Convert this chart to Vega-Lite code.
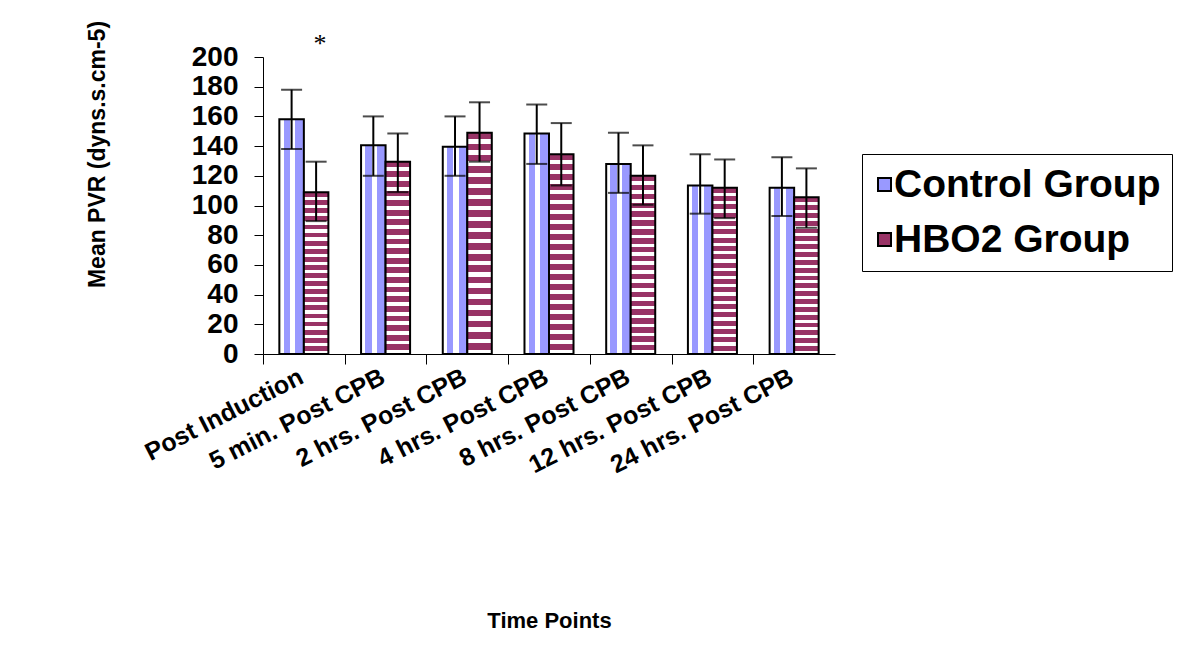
{
  "$schema": "https://vega.github.io/schema/vega-lite/v6.json",
  "autosize": "none",
  "width": 572,
  "height": 297,
  "padding": {"left": 263, "top": 57, "right": 346, "bottom": 314},
  "background": "white",
  "config": {
    "view": {"stroke": null},
    "font": "Liberation Sans"
  },
  "data": {
    "values": [
      {"time": "Post Induction", "group": "Control Group", "mean": 158, "lower": 138, "upper": 178},
      {"time": "Post Induction", "group": "HBO2 Group", "mean": 109, "lower": 89.5, "upper": 129.5},
      {"time": "5 min. Post CPB", "group": "Control Group", "mean": 140.5, "lower": 120, "upper": 160},
      {"time": "5 min. Post CPB", "group": "HBO2 Group", "mean": 129.5, "lower": 109, "upper": 148.5},
      {"time": "2 hrs. Post CPB", "group": "Control Group", "mean": 139.5, "lower": 120, "upper": 160},
      {"time": "2 hrs. Post CPB", "group": "HBO2 Group", "mean": 149, "lower": 129.5, "upper": 169.5},
      {"time": "4 hrs. Post CPB", "group": "Control Group", "mean": 148.5, "lower": 128, "upper": 168},
      {"time": "4 hrs. Post CPB", "group": "HBO2 Group", "mean": 134.5, "lower": 113.5, "upper": 155.5},
      {"time": "8 hrs. Post CPB", "group": "Control Group", "mean": 128, "lower": 108.5, "upper": 149},
      {"time": "8 hrs. Post CPB", "group": "HBO2 Group", "mean": 120, "lower": 100.5, "upper": 140.5},
      {"time": "12 hrs. Post CPB", "group": "Control Group", "mean": 113.5, "lower": 94.5, "upper": 134.5},
      {"time": "12 hrs. Post CPB", "group": "HBO2 Group", "mean": 112, "lower": 91.5, "upper": 131},
      {"time": "24 hrs. Post CPB", "group": "Control Group", "mean": 112, "lower": 93, "upper": 132.5},
      {"time": "24 hrs. Post CPB", "group": "HBO2 Group", "mean": 105.5, "lower": 85, "upper": 125}
    ]
  },
  "encoding": {
    "x": {
      "field": "time",
      "type": "nominal",
      "sort": null,
      "scale": {"paddingInner": 0.4, "paddingOuter": 0.2},
      "axis": {
        "title": "Time Points",
        "titleFont": "Liberation Sans",
        "titleFontSize": 22,
        "titleFontWeight": "bold",
        "titleColor": "black",
        "titleBaseline": "middle",
        "titleY": 266,
        "labelAngle": -27,
        "labelAlign": "right",
        "labelBaseline": "top",
        "labelFont": "Liberation Sans",
        "labelFontSize": 25,
        "labelFontWeight": "bold",
        "labelColor": "black",
        "labelPadding": 0,
        "labelOverlap": false,
        "bandPosition": 0,
        "tickOffset": -16.34,
        "labelOffset": 8,
        "tickSize": 10,
        "tickColor": "black",
        "domainColor": "black",
        "labelLimit": 400
      }
    },
    "xOffset": {"field": "group", "type": "nominal", "scale": {"paddingInner": 0, "paddingOuter": 0}}
  },
  "layer": [
    {
      "mark": {"type": "bar", "opacity": 0},
      "encoding": {
        "y": {
          "field": "mean",
          "type": "quantitative",
          "scale": {"domain": [0, 200], "nice": false},
          "axis": {
            "title": "Mean PVR (dyns.s.cm-5)",
            "titleFont": "Liberation Sans",
            "titleFontSize": 23,
            "titleFontWeight": "bold",
            "titleColor": "black",
            "titleAngle": -90,
            "titleAlign": "center",
            "titleBaseline": "middle",
            "titleX": -166,
            "titleY": 97,
            "values": [0, 20, 40, 60, 80, 100, 120, 140, 160, 180, 200],
            "grid": false,
            "labelFont": "Liberation Sans",
            "labelFontSize": 28,
            "labelFontWeight": "bold",
            "labelColor": "black",
            "labelPadding": 16,
            "labelOverlap": false,
            "tickSize": 9,
            "tickColor": "black",
            "domainColor": "black"
          }
        },
        "color": {
          "field": "group",
          "type": "nominal",
          "scale": {"domain": ["Control Group", "HBO2 Group"], "range": ["#9999FF", "#993366"]},
          "legend": {
            "title": null,
            "orient": "none",
            "legendX": 599,
            "legendY": 97,
            "strokeColor": "black",
            "padding": 11,
            "symbolType": "square",
            "symbolSize": 169,
            "symbolStrokeColor": "black",
            "symbolStrokeWidth": 2,
            "symbolOpacity": 1,
            "symbolOffset": -8,
            "labelFont": "Liberation Sans",
            "labelFontSize": 39,
            "labelFontWeight": "bold",
            "labelColor": "black",
            "labelOffset": -10,
            "rowPadding": 15,
            "labelLimit": 400
          }
        }
      }
    },
    {
      "mark": {"type": "bar", "stroke": "black", "strokeWidth": 2},
      "encoding": {
        "y": {
          "field": "mean",
          "type": "quantitative",
          "axis": {
            "title": "Mean PVR (dyns.s.cm-5)",
            "values": [0, 20, 40, 60, 80, 100, 120, 140, 160, 180, 200],
            "labelOverlap": false,
            "grid": false
          }
        },
        "fill": {
          "condition": {
            "test": "datum.group === 'Control Group'",
            "value": {"gradient": "linear", "x1": 0, "y1": 0, "x2": 1, "y2": 0, "stops": [
              {"offset": 0, "color": "#FFFFFF"}, {"offset": 0.17, "color": "#FFFFFF"},
              {"offset": 0.17, "color": "#9999FF"}, {"offset": 0.43, "color": "#9999FF"},
              {"offset": 0.43, "color": "#FFFFFF"}, {"offset": 0.65, "color": "#FFFFFF"},
              {"offset": 0.65, "color": "#9999FF"}, {"offset": 1, "color": "#9999FF"}
            ]}
          },
          "value": {"gradient": "linear", "x1": 0, "y1": 0, "x2": 0, "y2": 1, "stops": [
            {"offset": 0, "color": "#993366"}, {"offset": 0.03, "color": "#993366"}, {"offset": 0.03, "color": "#FFFFFF"}, {"offset": 0.05, "color": "#FFFFFF"},
            {"offset": 0.05, "color": "#993366"}, {"offset": 0.08, "color": "#993366"}, {"offset": 0.08, "color": "#FFFFFF"}, {"offset": 0.10, "color": "#FFFFFF"},
            {"offset": 0.10, "color": "#993366"}, {"offset": 0.13, "color": "#993366"}, {"offset": 0.13, "color": "#FFFFFF"}, {"offset": 0.15, "color": "#FFFFFF"},
            {"offset": 0.15, "color": "#993366"}, {"offset": 0.18, "color": "#993366"}, {"offset": 0.18, "color": "#FFFFFF"}, {"offset": 0.20, "color": "#FFFFFF"},
            {"offset": 0.20, "color": "#993366"}, {"offset": 0.23, "color": "#993366"}, {"offset": 0.23, "color": "#FFFFFF"}, {"offset": 0.25, "color": "#FFFFFF"},
            {"offset": 0.25, "color": "#993366"}, {"offset": 0.28, "color": "#993366"}, {"offset": 0.28, "color": "#FFFFFF"}, {"offset": 0.30, "color": "#FFFFFF"},
            {"offset": 0.30, "color": "#993366"}, {"offset": 0.33, "color": "#993366"}, {"offset": 0.33, "color": "#FFFFFF"}, {"offset": 0.35, "color": "#FFFFFF"},
            {"offset": 0.35, "color": "#993366"}, {"offset": 0.38, "color": "#993366"}, {"offset": 0.38, "color": "#FFFFFF"}, {"offset": 0.40, "color": "#FFFFFF"},
            {"offset": 0.40, "color": "#993366"}, {"offset": 0.43, "color": "#993366"}, {"offset": 0.43, "color": "#FFFFFF"}, {"offset": 0.45, "color": "#FFFFFF"},
            {"offset": 0.45, "color": "#993366"}, {"offset": 0.48, "color": "#993366"}, {"offset": 0.48, "color": "#FFFFFF"}, {"offset": 0.50, "color": "#FFFFFF"},
            {"offset": 0.50, "color": "#993366"}, {"offset": 0.53, "color": "#993366"}, {"offset": 0.53, "color": "#FFFFFF"}, {"offset": 0.55, "color": "#FFFFFF"},
            {"offset": 0.55, "color": "#993366"}, {"offset": 0.58, "color": "#993366"}, {"offset": 0.58, "color": "#FFFFFF"}, {"offset": 0.60, "color": "#FFFFFF"},
            {"offset": 0.60, "color": "#993366"}, {"offset": 0.63, "color": "#993366"}, {"offset": 0.63, "color": "#FFFFFF"}, {"offset": 0.65, "color": "#FFFFFF"},
            {"offset": 0.65, "color": "#993366"}, {"offset": 0.68, "color": "#993366"}, {"offset": 0.68, "color": "#FFFFFF"}, {"offset": 0.70, "color": "#FFFFFF"},
            {"offset": 0.70, "color": "#993366"}, {"offset": 0.73, "color": "#993366"}, {"offset": 0.73, "color": "#FFFFFF"}, {"offset": 0.75, "color": "#FFFFFF"},
            {"offset": 0.75, "color": "#993366"}, {"offset": 0.78, "color": "#993366"}, {"offset": 0.78, "color": "#FFFFFF"}, {"offset": 0.80, "color": "#FFFFFF"},
            {"offset": 0.80, "color": "#993366"}, {"offset": 0.83, "color": "#993366"}, {"offset": 0.83, "color": "#FFFFFF"}, {"offset": 0.85, "color": "#FFFFFF"},
            {"offset": 0.85, "color": "#993366"}, {"offset": 0.88, "color": "#993366"}, {"offset": 0.88, "color": "#FFFFFF"}, {"offset": 0.90, "color": "#FFFFFF"},
            {"offset": 0.90, "color": "#993366"}, {"offset": 0.93, "color": "#993366"}, {"offset": 0.93, "color": "#FFFFFF"}, {"offset": 0.95, "color": "#FFFFFF"},
            {"offset": 0.95, "color": "#993366"}, {"offset": 0.98, "color": "#993366"}, {"offset": 0.98, "color": "#FFFFFF"}, {"offset": 1, "color": "#FFFFFF"}
          ]}
        }
      }
    },
    {
      "mark": {"type": "rule", "color": "black", "strokeWidth": 2},
      "encoding": {
        "y": {
          "field": "lower",
          "type": "quantitative",
          "axis": {
            "title": "Mean PVR (dyns.s.cm-5)",
            "values": [0, 20, 40, 60, 80, 100, 120, 140, 160, 180, 200],
            "labelOverlap": false,
            "grid": false
          }
        },
        "y2": {"field": "upper"}
      }
    },
    {
      "mark": {"type": "tick", "color": "black", "thickness": 2, "size": 21, "orient": "horizontal"},
      "encoding": {
        "y": {
          "field": "upper",
          "type": "quantitative",
          "axis": {
            "title": "Mean PVR (dyns.s.cm-5)",
            "values": [0, 20, 40, 60, 80, 100, 120, 140, 160, 180, 200],
            "labelOverlap": false,
            "grid": false
          }
        }
      }
    },
    {
      "mark": {"type": "tick", "color": "black", "thickness": 2, "size": 21, "orient": "horizontal"},
      "encoding": {
        "y": {
          "field": "lower",
          "type": "quantitative",
          "axis": {
            "title": "Mean PVR (dyns.s.cm-5)",
            "values": [0, 20, 40, 60, 80, 100, 120, 140, 160, 180, 200],
            "labelOverlap": false,
            "grid": false
          }
        }
      }
    },
    {
      "data": {"values": [{"time": "Post Induction", "group": "HBO2 Group", "label": "*"}]},
      "mark": {"type": "text", "font": "Liberation Serif", "fontSize": 26, "color": "black", "baseline": "middle", "dx": 4},
      "encoding": {
        "y": {
          "datum": 209,
          "axis": {
            "title": "Mean PVR (dyns.s.cm-5)",
            "values": [0, 20, 40, 60, 80, 100, 120, 140, 160, 180, 200],
            "labelOverlap": false,
            "grid": false
          }
        },
        "text": {"field": "label"}
      }
    }
  ]
}
